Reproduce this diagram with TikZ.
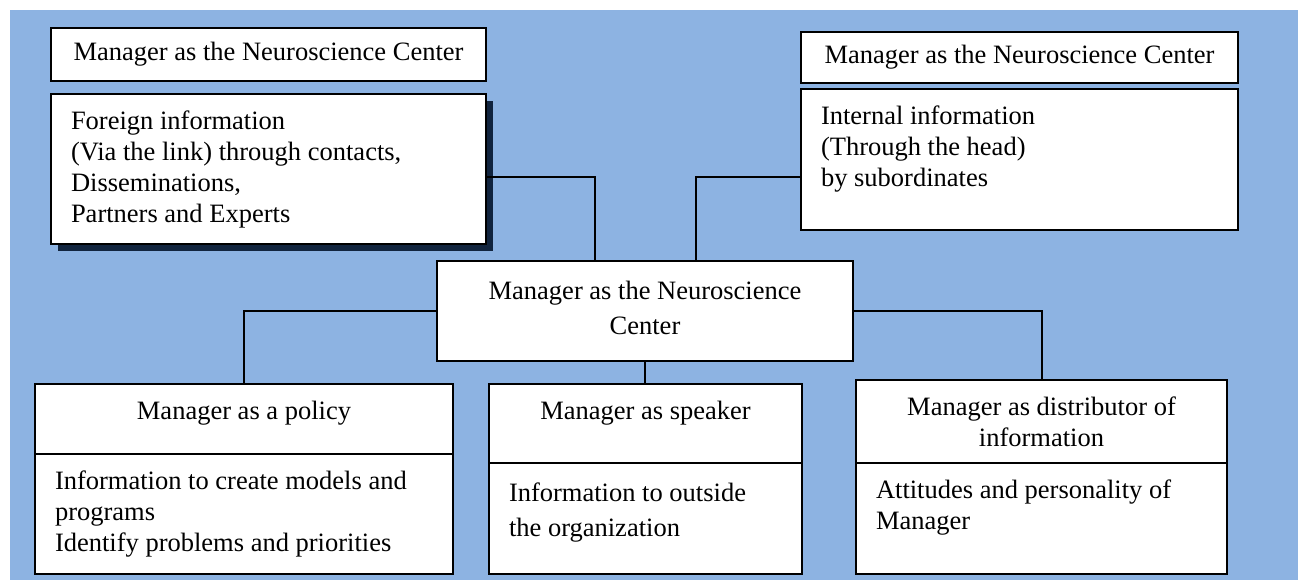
\documentclass[tikz,border=0pt]{standalone}
\usepackage{fontspec}
\setmainfont{Liberation Serif}
\definecolor{skyback}{RGB}{141,179,226}
\definecolor{navyshade}{RGB}{17,36,62}
\newcommand{\boxtext}[3]{\parbox[c][\dimexpr#2-10pt\relax][t]{\dimexpr#1-20pt\relax}{\vspace*{1.75pt}\strut#3}}
\tikzset{
	infobox/.style={draw=black, line width=1pt, fill=white, anchor=north west, inner xsep=10pt, inner ysep=5pt, outer sep=0pt, font=\fontsize{13.25pt}{15.5pt}\selectfont},
	titlebox/.style={infobox, inner sep=0pt, align=center},
	widelines/.style={font=\fontsize{13.25pt}{17.5pt}\selectfont},
	link/.style={line width=1pt},
}

\begin{document}
\begin{tikzpicture}[x=0.5pt, y=-0.5pt]
		%%%%% START %%%%%
		\useasboundingbox (0, 0) rectangle (1298, 580);
		\fill[skyback] (10, 10) rectangle (1298, 580);
		
		\node[titlebox, minimum width=217.5pt, minimum height=26.5pt] (lefttitle) at (51, 28) {Manager as the Neuroscience Center};
		\fill[navyshade] (58, 101) rectangle (493, 251);
		\node[infobox] (foreign) at (51, 94) {\boxtext{217.5pt}{75pt}{Foreign information\\(Via the link) through contacts,\\Disseminations,\\Partners and Experts}};
		
		\node[titlebox, minimum width=218.5pt, minimum height=25.5pt] (righttitle) at (801, 32) {Manager as the Neuroscience Center};
		\node[infobox] (internal) at (801, 89) {\boxtext{218.5pt}{70.5pt}{Internal information\\(Through the head)\\by subordinates}};
		
		\node[infobox, widelines] (hub) at (437, 261) {\boxtext{208pt}{50pt}{\centering Manager as the Neuroscience\\Center}};
		
		\node[infobox] (polhead) at (35, 384) {\boxtext{209pt}{35pt}{\centering Manager as a policy}};
		\node[infobox] (polbody) at (35, 454) {\boxtext{209pt}{60pt}{Information to create models and\\programs\\Identify problems and priorities}};
		
		\node[infobox] (spkhead) at (489, 384) {\boxtext{156.5pt}{39.5pt}{\centering Manager as speaker}};
		\node[infobox, widelines] (spkbody) at (489, 463) {\boxtext{156.5pt}{55.5pt}{Information to outside\\the organization}};
		
		\node[infobox] (disthead) at (856, 380) {\boxtext{185.5pt}{41.5pt}{\centering Manager as distributor of\\information}};
		\node[infobox] (distbody) at (856, 463) {\boxtext{185.5pt}{55.5pt}{Attitudes and personality of\\Manager}};
		
		\draw[link] ([yshift=-4pt]foreign.east) -| ([xshift=-25pt]hub.north);
		\draw[link] ([yshift=-8.75pt]internal.west) -| ([xshift=25.5pt]hub.north);
		\draw[link] (hub.west) -| (polhead.north);
		\draw[link] (hub.east) -| (disthead.north);
		\draw[link] (hub.south) -- (hub.south |- spkhead.north);
		%%%%% END %%%%%
\end{tikzpicture}
\end{document}
